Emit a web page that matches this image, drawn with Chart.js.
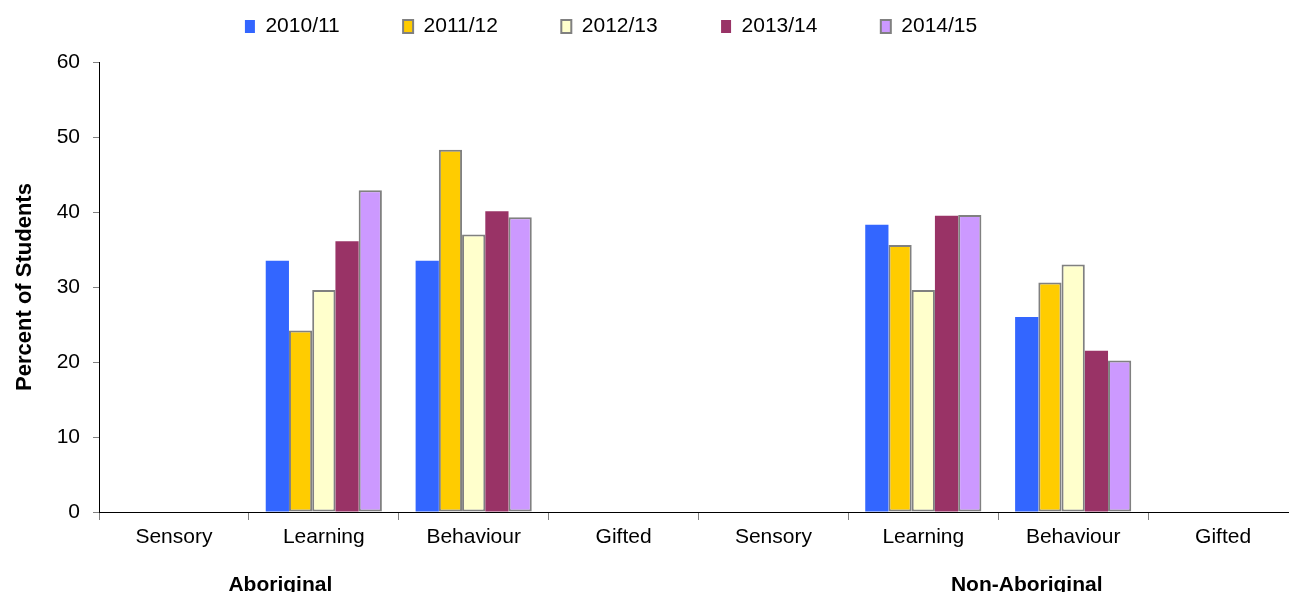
<!DOCTYPE html>
<html>
<head>
<meta charset="utf-8">
<script src="https://cdn.jsdelivr.net/npm/chart.js@4.4.1/dist/chart.umd.min.js"></script>
<style>
  html, body { margin: 0; padding: 0; background: #fff; overflow: hidden; }
  #wrap { width: 1300px; height: 592px; }
</style>
</head>
<body>
<div id="wrap"><canvas id="chart" width="1300" height="592"></canvas></div>
<script>
// categorias y series
const categorias = ['Sensory', 'Learning', 'Behaviour', 'Gifted', 'Sensory', 'Learning', 'Behaviour', 'Gifted'];
const grupos = ['Aboriginal', 'Non-Aboriginal'];
const anios = ['2010/11', '2011/12', '2012/13', '2013/14', '2014/15'];
const serie2010 = [null, 33.5, 33.5, null, null, 38.3, 26.0, null];
const serie2011 = [null, 24.2, 48.3, null, null, 35.6, 30.6, null];
const serie2012 = [null, 29.6, 37.0, null, null, 29.6, 33.0, null];
const serie2013 = [null, 36.1, 40.1, null, null, 39.5, 21.5, null];
const serie2014 = [null, 42.9, 39.3, null, null, 39.6, 20.2, null];
const ticksY = [0, 10, 20, 30, 40, 50, 60];

const fuente = "'Liberation Sans', Arial, sans-serif";
const gris = '#808080';

const colores = ['#3366FF', '#FFCC00', '#FFFFCC', '#993366', '#CC99FF'];
const bordes = [0, 2, 2, 0, 2];
const series = [serie2010, serie2011, serie2012, serie2013, serie2014];

const datasets = anios.map((a, i) => ({
  label: a,
  data: series[i],
  backgroundColor: colores[i],
  borderColor: bordes[i] ? gris : colores[i],
  borderWidth: bordes[i],
  borderSkipped: false,
  barPercentage: 1.0,
  categoryPercentage: 0.775
}));

// etiquetas de grupo debajo del eje x
const etiquetasGrupo = {
  id: 'etiquetasGrupo',
  afterDraw(chart) {
    const x = chart.scales.x;
    const ctx = chart.ctx;
    const pos = [0.71, 5.69];
    ctx.save();
    ctx.font = 'bold 21px ' + fuente;
    ctx.fillStyle = '#000';
    ctx.textAlign = 'center';
    ctx.textBaseline = 'alphabetic';
    grupos.forEach((g, i) => {
      ctx.fillText(g, x.getPixelForValue(pos[i]), 591);
    });
    ctx.restore();
  }
};

// deja espacio entre la leyenda y el area del grafico
const espacioLeyenda = {
  id: 'espacioLeyenda',
  beforeInit(chart) {
    const fitOriginal = chart.legend.fit;
    chart.legend.fit = function() {
      fitOriginal.call(this);
      this.height += 15;
    };
  }
};

new Chart(document.getElementById('chart'), {
  type: 'bar',
  data: { labels: categorias, datasets: datasets },
  plugins: [etiquetasGrupo, espacioLeyenda],
  options: {
    responsive: false,
    animation: false,
    devicePixelRatio: 1,
    layout: { padding: { top: 11, right: 2, bottom: 0, left: 0 } },
    scales: {
      x: {
        afterFit(scale) { scale.height = 80; },
        grid: { drawOnChartArea: false, color: gris, tickLength: 8, offset: true },
        border: { color: '#000', width: 1 },
        ticks: { color: '#000', font: { family: fuente, size: 21 }, padding: 5, maxRotation: 0, autoSkip: false }
      },
      y: {
        min: 0,
        max: 60,
        afterFit(scale) { scale.width = 99; },
        afterBuildTicks(scale) { scale.ticks = ticksY.map(v => ({ value: v })); },
        grid: { drawOnChartArea: false, color: gris, tickLength: 6 },
        border: { color: '#000', width: 1 },
        ticks: { color: '#000', font: { family: fuente, size: 21 }, padding: 13 },
        title: {
          display: true,
          text: 'Percent of Students',
          color: '#000',
          font: { family: fuente, size: 22, weight: 'bold' },
          padding: { top: 12, bottom: 0 }
        }
      }
    },
    plugins: {
      legend: {
        position: 'top',
        labels: {
          color: '#000',
          font: { family: fuente, size: 21 },
          boxWidth: 10,
          boxHeight: 13,
          padding: 5,
          generateLabels(chart) {
            const items = Chart.defaults.plugins.legend.labels.generateLabels(chart);
            items.forEach((it, i) => {
              it.text = it.text + '          ' + (i === items.length - 1 ? '   ' : '');
            });
            return items;
          }
        }
      },
      tooltip: { enabled: false }
    }
  }
});
</script>
</body>
</html>
